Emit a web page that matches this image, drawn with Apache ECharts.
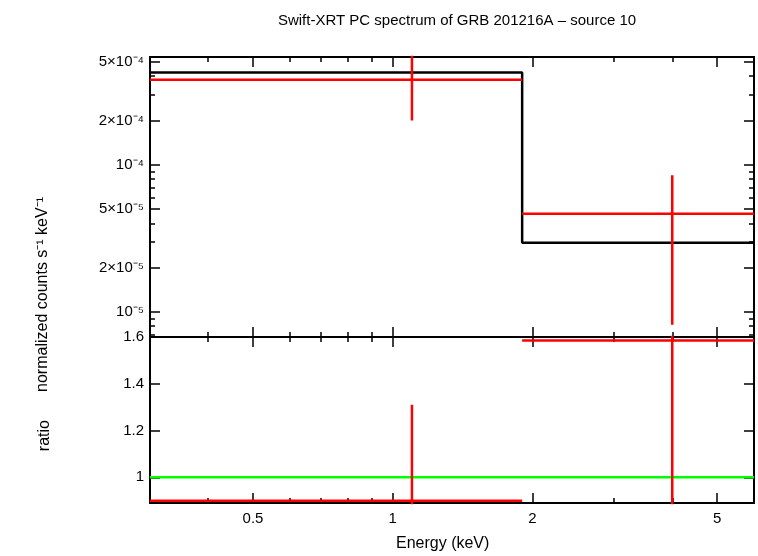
<!DOCTYPE html>
<html lang="en">
<head>
  <meta charset="UTF-8">
  <title>Swift-XRT spectrum</title>
  <style>
  html, body { margin: 0; padding: 0; width: 100%; height: 100%; background: #fff; }
  .main { width: 758px; height: 556px; }
  </style>
</head>
<body>
<div class="main"></div>
<script src="https://cdn.jsdelivr.net/npm/echarts@6/dist/echarts.min.js"></script>
<script>
// spectrum bins (keV), model and data values
var binEdges = [0.3, 1.9, 6];
var modelFlux = [4.23e-4, 2.95e-5];
var dataCentre = [1.1, 4.0];
var dataFlux = [3.79e-4, 4.64e-5];
var dataFluxLo = [2.0e-4, 8.2e-6];
var dataFluxHi = [6.0e-4, 8.5e-5];
var ratio = [0.90, 1.585];
var ratioLo = [0.85, 0.85];
var ratioHi = [1.31, 1.7];

var xMajor = [0.5, 1, 2, 5];
var xMinor = [0.3, 0.4, 0.6, 0.7, 0.8, 0.9, 3, 4, 6];
var fluxTicks = [5e-4, 2e-4, 1e-4, 5e-5, 2e-5, 1e-5];
var fluxLabels = ['5×10⁻⁴', '2×10⁻⁴', '10⁻⁴', '5×10⁻⁵', '2×10⁻⁵', '10⁻⁵'];
var fluxMinor = [4e-4, 3e-4, 9e-5, 8e-5, 7e-5, 6e-5, 4e-5, 3e-5, 9e-6, 8e-6, 7e-6];
var ratioTicks = [1, 1.2, 1.4, 1.6];

var font = 'Liberation Sans, Arial, sans-serif';

function stepData(edges, vals) {
  var d = [];
  for (var i = 0; i < vals.length; i++) {
    d.push([edges[i], vals[i]], [edges[i + 1], vals[i]]);
  }
  return d;
}
function crossData(cx, y, ylo, yhi) {
  var d = [];
  for (var i = 0; i < cx.length; i++) {
    d.push([binEdges[i], y[i]], [binEdges[i + 1], y[i]], '-');
    d.push([cx[i], ylo[i]], [cx[i], yhi[i]], '-');
  }
  return d;
}

function xAxis(grid, pos, vals, len) {
  return {
    type: 'log', gridIndex: grid, position: pos, min: 0.3, max: 6, logBase: 10,
    axisLine: { show: true, onZero: false, lineStyle: { color: '#000', width: 2 } },
    axisTick: { show: true, inside: true, length: len, customValues: vals, lineStyle: { color: '#000', width: 1.5 } },
    axisLabel: { show: grid === 1 && pos === 'bottom' && len > 6, customValues: xMajor, color: '#000', fontFamily: font, fontSize: 15, margin: 8 },
    splitLine: { show: false }
  };
}
function yAxis(grid, pos, type, min, max, vals, len, labels, labVals) {
  var ax = {
    type: type, gridIndex: grid, position: pos, min: min, max: max,
    axisLine: { show: true, onZero: false, lineStyle: { color: '#000', width: 2 } },
    axisTick: { show: true, inside: true, length: len, customValues: vals, lineStyle: { color: '#000', width: 1.5 } },
    axisLabel: { show: !!labels, customValues: labVals, color: '#000', fontFamily: font, fontSize: 15, margin: 6,
      formatter: function (v) {
        if (type === 'log') {
          for (var i = 0; i < fluxTicks.length; i++) if (Math.abs(v / fluxTicks[i] - 1) < 1e-3) return fluxLabels[i];
          return '';
        }
        return String(+v.toFixed(1));
      } },
    splitLine: { show: false }
  };
  if (type === 'log') ax.logBase = 10;
  return ax;
}

var chart = echarts.init(document.querySelector('.main'));
chart.setOption({
  backgroundColor: '#fff',
  animation: false,
  title: { text: 'Swift-XRT PC spectrum of GRB 201216A – source 10', left: 452, top: 8, textAlign: 'center',
    textStyle: { fontFamily: font, fontSize: 15, fontWeight: 'normal', color: '#000' } },
  grid: [
    { left: 150, right: 4, top: 57, height: 280 },
    { left: 150, right: 4, top: 337, height: 166 }
  ],
  xAxis: [
    xAxis(0, 'bottom', xMajor, 10), xAxis(0, 'bottom', xMinor, 5),
    xAxis(0, 'top', xMajor, 10), xAxis(0, 'top', xMinor, 5),
    xAxis(1, 'bottom', xMajor, 10), xAxis(1, 'bottom', xMinor, 5),
    xAxis(1, 'top', xMajor, 10), xAxis(1, 'top', xMinor, 5)
  ],
  yAxis: [
    yAxis(0, 'left', 'log', 6.76e-6, 5.4e-4, fluxTicks, 10, true, fluxTicks),
    yAxis(0, 'left', 'log', 6.76e-6, 5.4e-4, fluxMinor, 5),
    yAxis(0, 'right', 'log', 6.76e-6, 5.4e-4, fluxTicks, 10),
    yAxis(0, 'right', 'log', 6.76e-6, 5.4e-4, fluxMinor, 5),
    yAxis(1, 'left', 'value', 0.89, 1.6, ratioTicks, 10, true, ratioTicks),
    yAxis(1, 'right', 'value', 0.89, 1.6, ratioTicks, 10)
  ],
  graphic: [
    { type: 'text', left: 35, top: 197, rotation: Math.PI / 2, style: { text: 'normalized counts s⁻¹ keV⁻¹', fontFamily: font, fontSize: 16, fill: '#000', textAlign: 'center', textVerticalAlign: 'middle', x: 10, y: 0 } },
    { type: 'text', left: 37, top: 420, rotation: Math.PI / 2, style: { text: 'ratio', fontFamily: font, fontSize: 16, fill: '#000', textAlign: 'center', textVerticalAlign: 'middle' } },
    { type: 'text', left: 396, top: 536, style: { text: 'Energy (keV)', fontFamily: font, fontSize: 16, fill: '#000' } }
  ],
  series: [
    { type: 'line', xAxisIndex: 0, yAxisIndex: 0, data: stepData(binEdges, modelFlux), symbol: 'none',
      lineStyle: { color: '#000', width: 2.5 }, clip: true },
    { type: 'line', xAxisIndex: 0, yAxisIndex: 0, data: crossData(dataCentre, dataFlux, dataFluxLo, dataFluxHi), symbol: 'none',
      connectNulls: false, lineStyle: { color: '#f00', width: 2.5 }, clip: true },
    { type: 'line', xAxisIndex: 4, yAxisIndex: 4, data: [[binEdges[0], 1], [binEdges[2], 1]], symbol: 'none',
      lineStyle: { color: '#0f0', width: 2.5 }, clip: true },
    { type: 'line', xAxisIndex: 4, yAxisIndex: 4, data: crossData(dataCentre, ratio, ratioLo, ratioHi), symbol: 'none',
      connectNulls: false, lineStyle: { color: '#f00', width: 2.5 }, clip: true }
  ]
});
</script>
</body>
</html>
